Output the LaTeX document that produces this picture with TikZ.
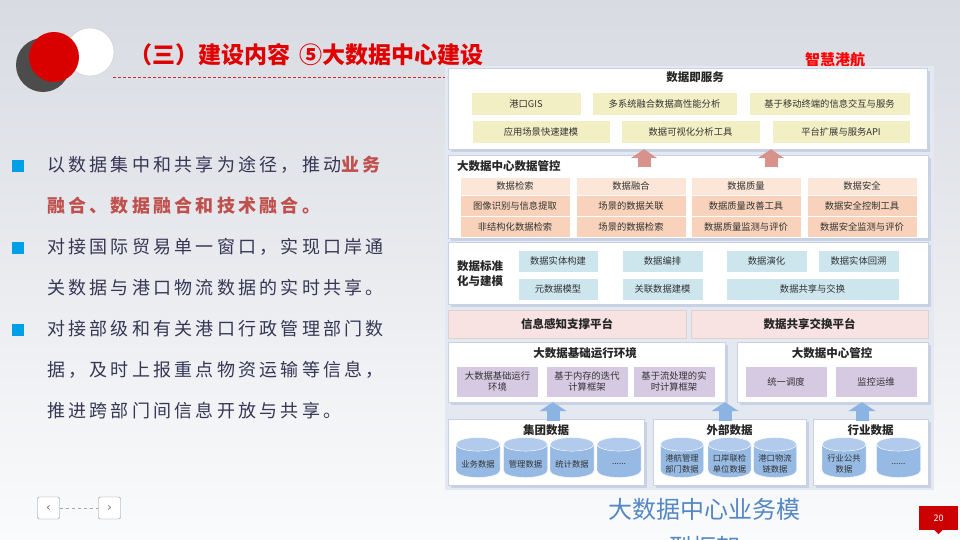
\documentclass[tikz,border=0pt]{standalone}
\usepackage{fontspec}
\setmainfont{Noto Sans CJK SC}
\newfontfamily\bodyfont[LetterSpace=18]{Noto Sans CJK SC}
\newfontfamily\symfont{DejaVu Sans}
\usetikzlibrary{positioning,shapes.geometric,arrows.meta,shadows}

\definecolor{slidered}{RGB}{224,0,0}
\definecolor{txtdark}{RGB}{55,55,85}
\definecolor{keyred}{RGB}{192,80,77}
\definecolor{bulletblue}{RGB}{0,160,232}
\definecolor{svcfill}{RGB}{243,239,196}
\definecolor{mgmthead}{RGB}{251,230,215}
\definecolor{mgmtcell}{RGB}{248,210,186}
\definecolor{stdfill}{RGB}{205,230,238}
\definecolor{platfill}{RGB}{248,226,226}
\definecolor{envfill}{RGB}{214,201,226}
\definecolor{cylbody}{RGB}{150,186,228}
\definecolor{cylend}{RGB}{178,203,236}
\definecolor{pinkup}{RGB}{216,146,140}
\definecolor{blueup}{RGB}{140,180,226}
\definecolor{panelback}{RGB}{228,232,240}
\definecolor{panelshadow}{RGB}{200,210,228}
\definecolor{captionblue}{RGB}{85,135,195}
\definecolor{tagred}{RGB}{204,0,0}
\definecolor{dashred}{RGB}{205,40,40}

\tikzset{
    sec/.style={draw=panelshadow, fill=white, inner sep=0pt,
        drop shadow={shadow xshift=3pt, shadow yshift=-3pt, fill=panelshadow, opacity=1}},
    sectitle/.style={font=\fontsize{11.5}{15}\selectfont\bfseries, text=black!85, inner sep=0pt},
    cell/.style={draw=white, inner sep=0pt, align=center,
        font=\fontsize{9.3}{11.5}\selectfont, text=black!80},
    svc/.style={cell, fill=svcfill, minimum height=23pt},
    mhead/.style={cell, fill=mgmthead, minimum width=110pt, minimum height=18pt},
    mcell/.style={cell, fill=mgmtcell, minimum width=110pt, minimum height=21pt},
    std/.style={cell, fill=stdfill, minimum height=22pt},
    plat/.style={draw=platfill!80!black!60, fill=platfill, minimum height=28pt,
        font=\fontsize{11.5}{13}\selectfont\bfseries, text=black!85},
    env/.style={cell, fill=envfill, minimum width=82pt, minimum height=31pt},
    cyl/.style={cylinder, shape border rotate=90, aspect=0.4,
        minimum width=44pt, minimum height=40pt, draw=white, inner sep=0pt,
        text width=34pt, text height=8pt, text depth=2pt,
        cylinder uses custom fill, cylinder body fill=cylbody, cylinder end fill=cylend},
    cyllabel/.style={align=center, font=\fontsize{8.3}{10.5}\selectfont, text=black!80,
        inner sep=0pt, yshift=-3pt},
    uppink/.style={draw=pinkup, line width=13pt, -{Triangle[width=26pt,length=9pt]}},
    upblue/.style={draw=blueup, line width=13pt, -{Triangle[width=27pt,length=9pt]}},
    bodytext/.style={font=\bodyfont\fontsize{18}{41}\selectfont, text=txtdark, align=left, inner sep=0pt},
    bulletsq/.style={fill=bulletblue, minimum size=12pt, inner sep=0pt},
    navbtn/.style={draw=black!45, rounded corners=2pt, fill=white, minimum width=22pt,
        minimum height=22pt, inner sep=0pt, font=\symfont\fontsize{12}{12}\selectfont, text=black!55}
}

\begin{document}
\begin{tikzpicture}[x=1pt, y=-1pt]
    \useasboundingbox (0,0) rectangle (960,540);
    \shade[top color={rgb,255:red,216;green,219;blue,226}, bottom color={rgb,255:red,250;green,251;blue,252}]
        (0,0) rectangle (960,540);

    % title
    \fill[black!70] (43,65) circle (27);
    \fill[white, draw=black!20] (90,52) circle (24);
    \fill[red!85!black] (54,57) circle (25);
    \node[anchor=west, font=\fontsize{23}{23}\selectfont\bfseries, text=slidered, inner sep=0pt]
        (title) at (129,55) {（三）建设内容\hspace{0.4em}⑤大数据中心建设};
    \draw[dashred, dash pattern=on 3pt off 2pt, line width=0.6pt] (113,77) -- (450,77);
    \node[font=\fontsize{15}{15}\selectfont\bfseries, text=red] (brand) at (835,60) {智慧港航};

    % left points
    \node[bulletsq] (b1) at (18,166) {};
    \node[bulletsq] (b2) at (18,248) {};
    \node[bulletsq] (b3) at (18,330) {};
    \node[bodytext, anchor=north west] (pt1) at (47,156)
        {以数据集中和共享为途径，推动\textcolor{keyred}{\bfseries 业务}\\
         \textcolor{keyred}{\bfseries 融合、数据融合和技术融合。}};
    \node[bodytext, anchor=north west] (pt2) at (47,238)
        {对接国际贸易单一窗口，实现口岸通\\关数据与港口物流数据的实时共享。};
    \node[bodytext, anchor=north west] (pt3) at (47,320)
        {对接部级和有关港口行政管理部门数\\据，及时上报重点物资运输等信息，\\推进跨部门间信息开放与共享。};

    % panel
    \fill[panelback] (445,66) rectangle (934,490);

    % data as a service
    \node[sec, minimum width=479pt, minimum height=81pt] (svcsec) at (687.5,108.5) {};
    \node[sectitle] (svctitle) at (695,77) {数据即服务};
    \node[svc, minimum width=110pt] (gis) at (526,103.5) {港口GIS};
    \node[svc, minimum width=145pt] (fusion) at (664.5,103.5) {多系统融合数据高性能分析};
    \node[svc, minimum width=161pt] (mobile) at (829.5,103.5) {基于移动终端的信息交互与服务};
    \node[svc, minimum width=138pt] (scene) at (541,131.5) {应用场景快速建模};
    \node[svc, minimum width=139pt] (visual) at (690.5,131.5) {数据可视化分析工具};
    \node[svc, minimum width=138pt] (api) at (841,131.5) {平台扩展与服务API};

    % data management
    \node[sec, minimum width=480pt, minimum height=83pt] (mgmtsec) at (688,196.5) {};
    \node[sectitle, anchor=west] (mgmttitle) at (457,166) {大数据中心数据管控};
    \node[mhead] (search) at (515,186) {数据检索};
    \node[mhead] (merge) at (631,186) {数据融合};
    \node[mhead] (quality) at (746,186) {数据质量};
    \node[mhead] (safety) at (862,186) {数据安全};
    \node[mcell] (image) at (515,205.5) {图像识别与信息提取};
    \node[mcell] (link) at (631,205.5) {场景的数据关联};
    \node[mcell] (improve) at (746,205.5) {数据质量改善工具};
    \node[mcell] (control) at (862,205.5) {数据安全控制工具};
    \node[mcell] (unstruct) at (515,226.5) {非结构化数据检索};
    \node[mcell] (scenesearch) at (631,226.5) {场景的数据检索};
    \node[mcell] (qmonitor) at (746,226.5) {数据质量监测与评价};
    \node[mcell] (smonitor) at (862,226.5) {数据安全监测与评价};

    % standardisation and modelling
    \node[sec, minimum width=480pt, minimum height=62pt] (stdsec) at (688,273) {};
    \node[sectitle, anchor=west, align=left] (stdtitle) at (457,274) {数据标准\\化与建模};
    \node[std, minimum width=80pt] (entity) at (558,261) {数据实体构建};
    \node[std, minimum width=81pt] (arrange) at (662.5,261) {数据编排};
    \node[std, minimum width=81pt] (evolve) at (766.5,261) {数据演化};
    \node[std, minimum width=81pt] (trace) at (858.5,261) {数据实体回溯};
    \node[std, minimum width=80pt] (meta) at (558,289) {元数据模型};
    \node[std, minimum width=81pt] (linkmodel) at (662.5,289) {关联数据建模};
    \node[std, minimum width=173pt] (exchange) at (812.5,289) {数据共享与交换};

    % platforms
    \node[plat, minimum width=238pt] (sensing) at (567,324) {信息感知支撑平台};
    \node[plat, minimum width=237pt] (sharing) at (809.5,324) {数据共享交换平台};

    % runtime and control
    \node[sec, minimum width=277pt, minimum height=60pt] (envsec) at (586.5,372) {};
    \node[sectitle] (envtitle) at (585,353) {大数据基础运行环境};
    \node[env] (runtime) at (497.5,381.5) {大数据基础运行\\环境};
    \node[env] (memory) at (587,381.5) {基于内存的迭代\\计算框架};
    \node[env] (stream) at (674,381.5) {基于流处理的实\\时计算框架};
    \node[sec, minimum width=191pt, minimum height=60pt] (ctrlsec) at (832.5,372) {};
    \node[sectitle] (ctrltitle) at (832,353) {大数据中心管控};
    \node[env] (schedule) at (786,381.5) {统一调度};
    \node[env] (ops) at (876,381.5) {监控运维};

    % data sources
    \node[sec, minimum width=196pt, minimum height=66pt] (groupsec) at (546,452) {};
    \node[sectitle] (grouptitle) at (546,430) {集团数据};
    \node[cyl, label={[cyllabel]center:业务数据}] (business) at (478,461) {};
    \node[cyl, label={[cyllabel]center:管理数据}] (manage) at (525.5,461) {};
    \node[cyl, label={[cyllabel]center:统计数据}] (stats) at (572,461) {};
    \node[cyl, label={[cyllabel]center:......}] (groupmore) at (619,461) {};
    \node[sec, minimum width=153pt, minimum height=66pt] (extsec) at (729.5,452) {};
    \node[sectitle] (exttitle) at (729.5,430) {外部数据};
    \node[cyl, minimum width=43pt, label={[cyllabel]center:{港航管理\\部门数据}}] (portadmin) at (682,461) {};
    \node[cyl, minimum width=43pt, label={[cyllabel]center:{口岸联检\\单位数据}}] (customs) at (729.5,461) {};
    \node[cyl, minimum width=43pt, label={[cyllabel]center:{港口物流\\链数据}}] (chain) at (775,461) {};
    \node[sec, minimum width=115pt, minimum height=66pt] (indsec) at (870.5,452) {};
    \node[sectitle] (indtitle) at (870.5,430) {行业数据};
    \node[cyl, label={[cyllabel]center:{行业公共\\数据}}] (public) at (844,461) {};
    \node[cyl, label={[cyllabel]center:......}] (indmore) at (898.5,461) {};

    % arrows
    \coordinate (pa1) at (644,0);
    \coordinate (pa2) at (771,0);
    \draw[uppink] ([yshift=-12pt]mgmtsec.north -| pa1) -- (svcsec.south -| pa1);
    \draw[uppink] ([yshift=-12pt]mgmtsec.north -| pa2) -- (svcsec.south -| pa2);
    \coordinate (ba1) at (553,0);
    \coordinate (ba2) at (725,0);
    \coordinate (ba3) at (862,0);
    \draw[upblue] ([yshift=-2pt]groupsec.north -| ba1) -- (envsec.south -| ba1);
    \draw[upblue] ([yshift=-2pt]extsec.north -| ba2) -- (envsec.south -| ba2);
    \draw[upblue] ([yshift=-2pt]indsec.north -| ba3) -- (ctrlsec.south -| ba3);

    % caption
    \node[font=\fontsize{24}{38}\selectfont, text=captionblue, align=center, anchor=north]
        (caption) at (704,495) {大数据中心业务模\\型框架};

    % footer
    \node[navbtn] (prevbtn) at (48.5,508) {‹};
    \node[navbtn] (nextbtn) at (109.5,508) {›};
    \draw[dashed, black!35] (prevbtn) -- (nextbtn);
    \node[fill=tagred, text=white, minimum width=39pt, minimum height=24pt, inner sep=0pt,
        font=\fontsize{9}{9}\selectfont] (pagetag) at (938.5,518) {20};
    \fill[tagred] ([xshift=-4pt]pagetag.south) -- ([xshift=4pt]pagetag.south)
        -- ([yshift=-4pt]pagetag.south) -- cycle;
\end{tikzpicture}
\end{document}
